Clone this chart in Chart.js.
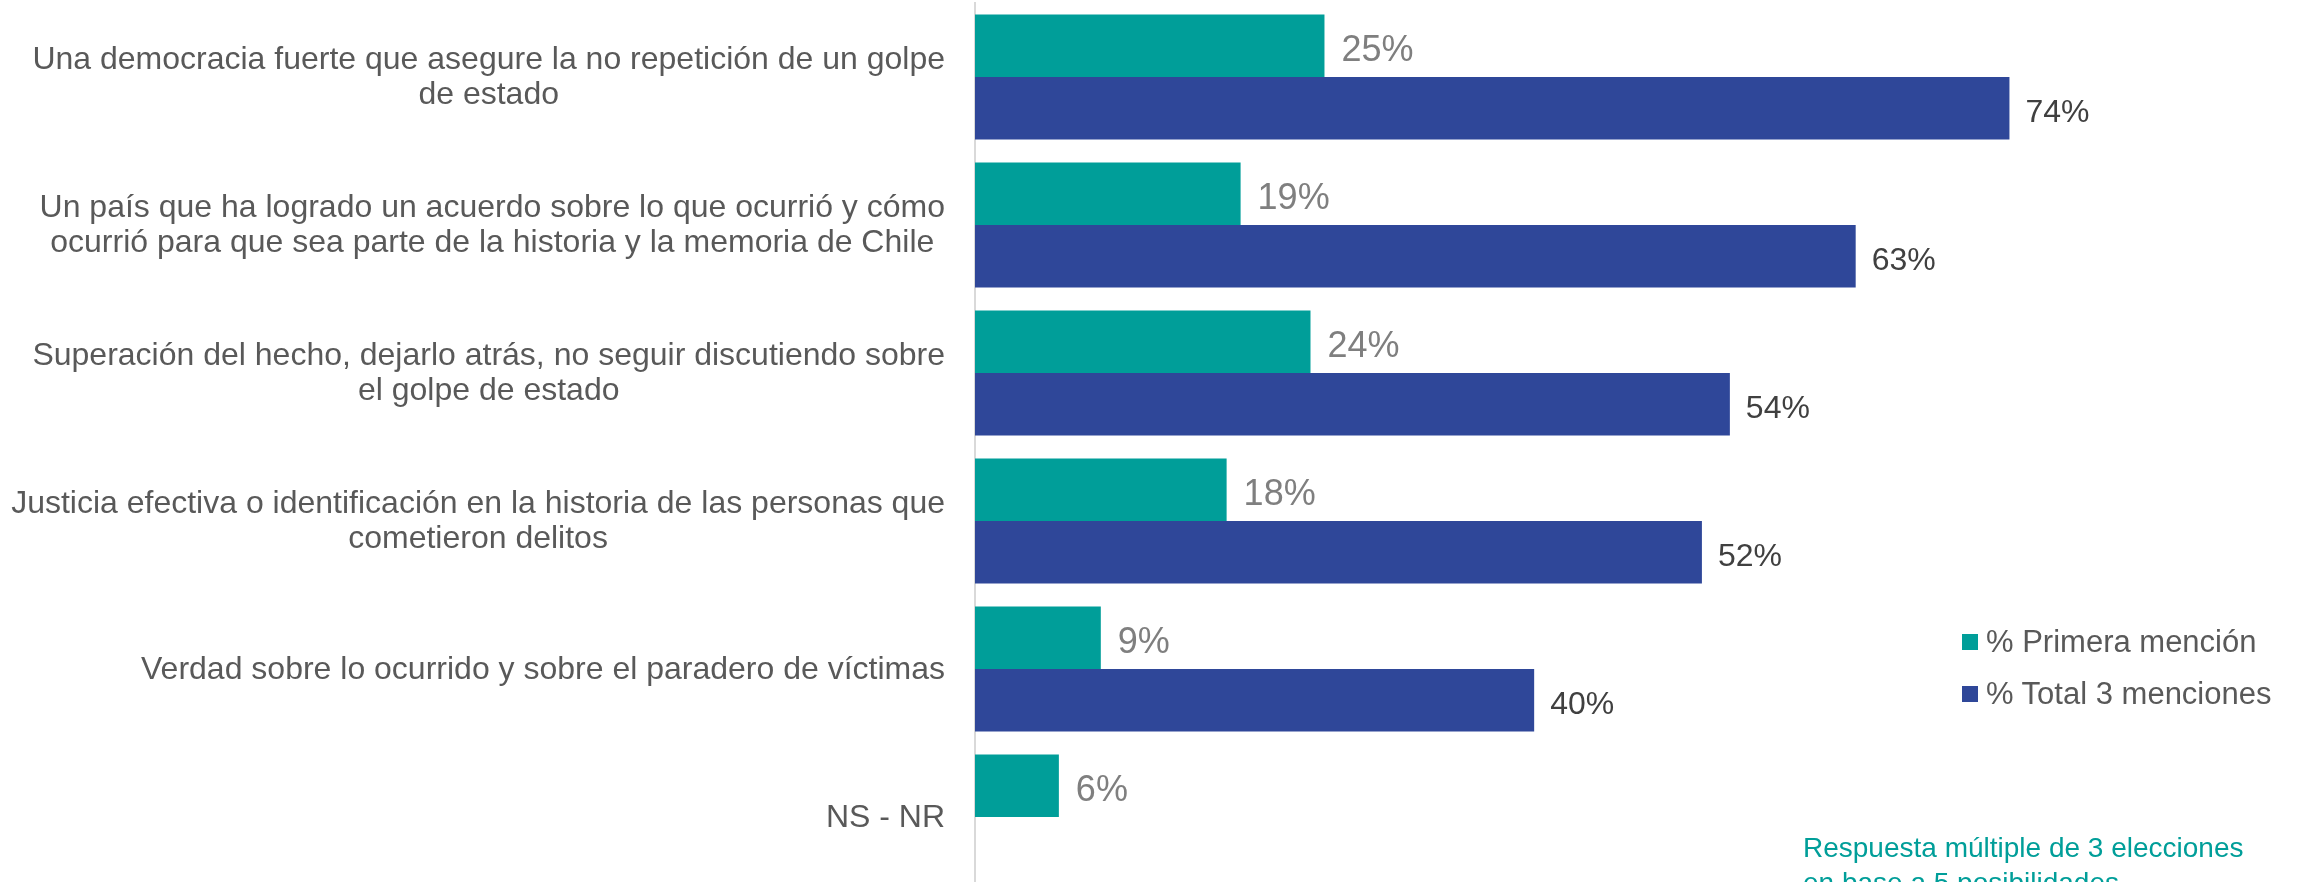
<!DOCTYPE html>
<html lang="es">
<head>
<meta charset="utf-8">
<title>Golpe de estado : expectativas</title>
<script src="https://cdn.jsdelivr.net/npm/chart.js@4.4.1/dist/chart.umd.min.js"></script>
<style>
  html, body { margin: 0; padding: 0; overflow: hidden; background: #fff; }
  #marco { position: relative; width: 2310px; height: 894px; }
  #leyenda { position: absolute; left: 1962px; top: 616px; font: 31px "Liberation Sans", Arial, sans-serif; color: #595959; }
  #leyenda .fila { display: flex; align-items: center; height: 52px; white-space: nowrap; }
  #leyenda .caja { width: 16px; height: 16px; margin-right: 8px; }
  #nota { position: absolute; left: 1803px; top: 830px; font: 28px/35px "Liberation Sans", Arial, sans-serif; color: #009e99; white-space: nowrap; }
</style>
</head>
<body>
<div id="marco">
  <canvas id="graficoBarras"></canvas>
  <div id="leyenda"></div>
  <div id="nota">Respuesta múltiple de 3 elecciones<br>en base a 5 posibilidades</div>
</div>
<script>
// ── Données ──
const categorias = [
  ['Una democracia fuerte que asegure la no repetición de un golpe', 'de estado'],
  ['Un país que ha logrado un acuerdo sobre lo que ocurrió y cómo', 'ocurrió para que sea parte de la historia y la memoria de Chile'],
  ['Superación del hecho, dejarlo atrás, no seguir discutiendo sobre', 'el golpe de estado'],
  ['Justicia efectiva o identificación en la historia de las personas que', 'cometieron delitos'],
  ['Verdad sobre lo ocurrido y sobre el paradero de víctimas'],
  ['NS - NR']
];
const primeraMencion = [25, 19, 24, 18, 9, 6];
const totalMenciones = [74, 63, 54, 52, 40, null];
const seriesNombres = ['% Primera mención', '% Total 3 menciones'];

const TEAL = '#009e99';
const AZUL = '#2f4799';
const FUENTE = '"Liberation Sans", Arial, sans-serif';

// style des étiquettes de valeur, par série
const estiloValores = [
  { font: '36px ' + FUENTE, color: '#7f7f7f', gap: 17 },
  { font: '32px ' + FUENTE, color: '#404040', gap: 16 }
];

// ── Étiquettes de catégorie : bloc aligné à droite, lignes centrées ──
const etiquetasEje = {
  id: 'etiquetasEje',
  afterDraw(chart) {
    const ctx = chart.ctx;
    const escalaY = chart.scales.y;
    ctx.save();
    ctx.font = '32px ' + FUENTE;
    ctx.fillStyle = '#595959';
    ctx.textAlign = 'center';
    ctx.textBaseline = 'middle';
    chart.data.labels.forEach((lab, i) => {
      const lineas = Array.isArray(lab) ? lab : [lab];
      const ancho = Math.max(...lineas.map(l => ctx.measureText(l).width));
      const cx = chart.chartArea.left - 30 - ancho / 2;
      const cy = escalaY.getPixelForValue(i) + 1;
      const y0 = cy - (lineas.length - 1) * 35 / 2;
      lineas.forEach((l, k) => ctx.fillText(l, cx, y0 + k * 35));
    });
    ctx.restore();
  }
};

// ── Valeurs au bout des barres ──
const valoresBarras = {
  id: 'valoresBarras',
  afterDatasetsDraw(chart) {
    const ctx = chart.ctx;
    ctx.save();
    ctx.textAlign = 'left';
    ctx.textBaseline = 'middle';
    chart.data.datasets.forEach((ds, i) => {
      const st = estiloValores[i];
      ctx.font = st.font;
      ctx.fillStyle = st.color;
      chart.getDatasetMeta(i).data.forEach((barra, j) => {
        const v = ds.data[j];
        if (v === null || v === undefined) return;
        ctx.fillText(v + '%', barra.x + st.gap, barra.y + 5);
      });
    });
    ctx.restore();
  }
};

const grafico = new Chart(document.getElementById('graficoBarras'), {
  type: 'bar',
  data: {
    labels: categorias,
    datasets: [
      { label: seriesNombres[0], data: primeraMencion, backgroundColor: TEAL },
      { label: seriesNombres[1], data: totalMenciones, backgroundColor: AZUL }
    ]
  },
  options: {
    indexAxis: 'y',
    responsive: true,
    maintainAspectRatio: false,
    animation: false,
    categoryPercentage: 0.845,
    barPercentage: 1,
    layout: { padding: { top: 3, bottom: 3, left: 0, right: 0 } },
    plugins: { legend: { display: false }, tooltip: { enabled: false } },
    scales: {
      x: { display: false, min: 0, max: 95.5 },
      y: {
        display: true,
        ticks: { display: false },
        grid: { display: false },
        border: { display: true, color: '#d9d9d9', width: 2 },
        afterFit(scale) { scale.width = 975; }
      }
    }
  },
  plugins: [etiquetasEje, valoresBarras]
});

// ── Légende HTML ──
const leyenda = document.getElementById('leyenda');
grafico.data.datasets.forEach(ds => {
  const fila = document.createElement('div');
  fila.className = 'fila';
  fila.innerHTML = `<span class="caja" style="background:${ds.backgroundColor}"></span><span>${ds.label}</span>`;
  leyenda.appendChild(fila);
});
</script>
</body>
</html>
